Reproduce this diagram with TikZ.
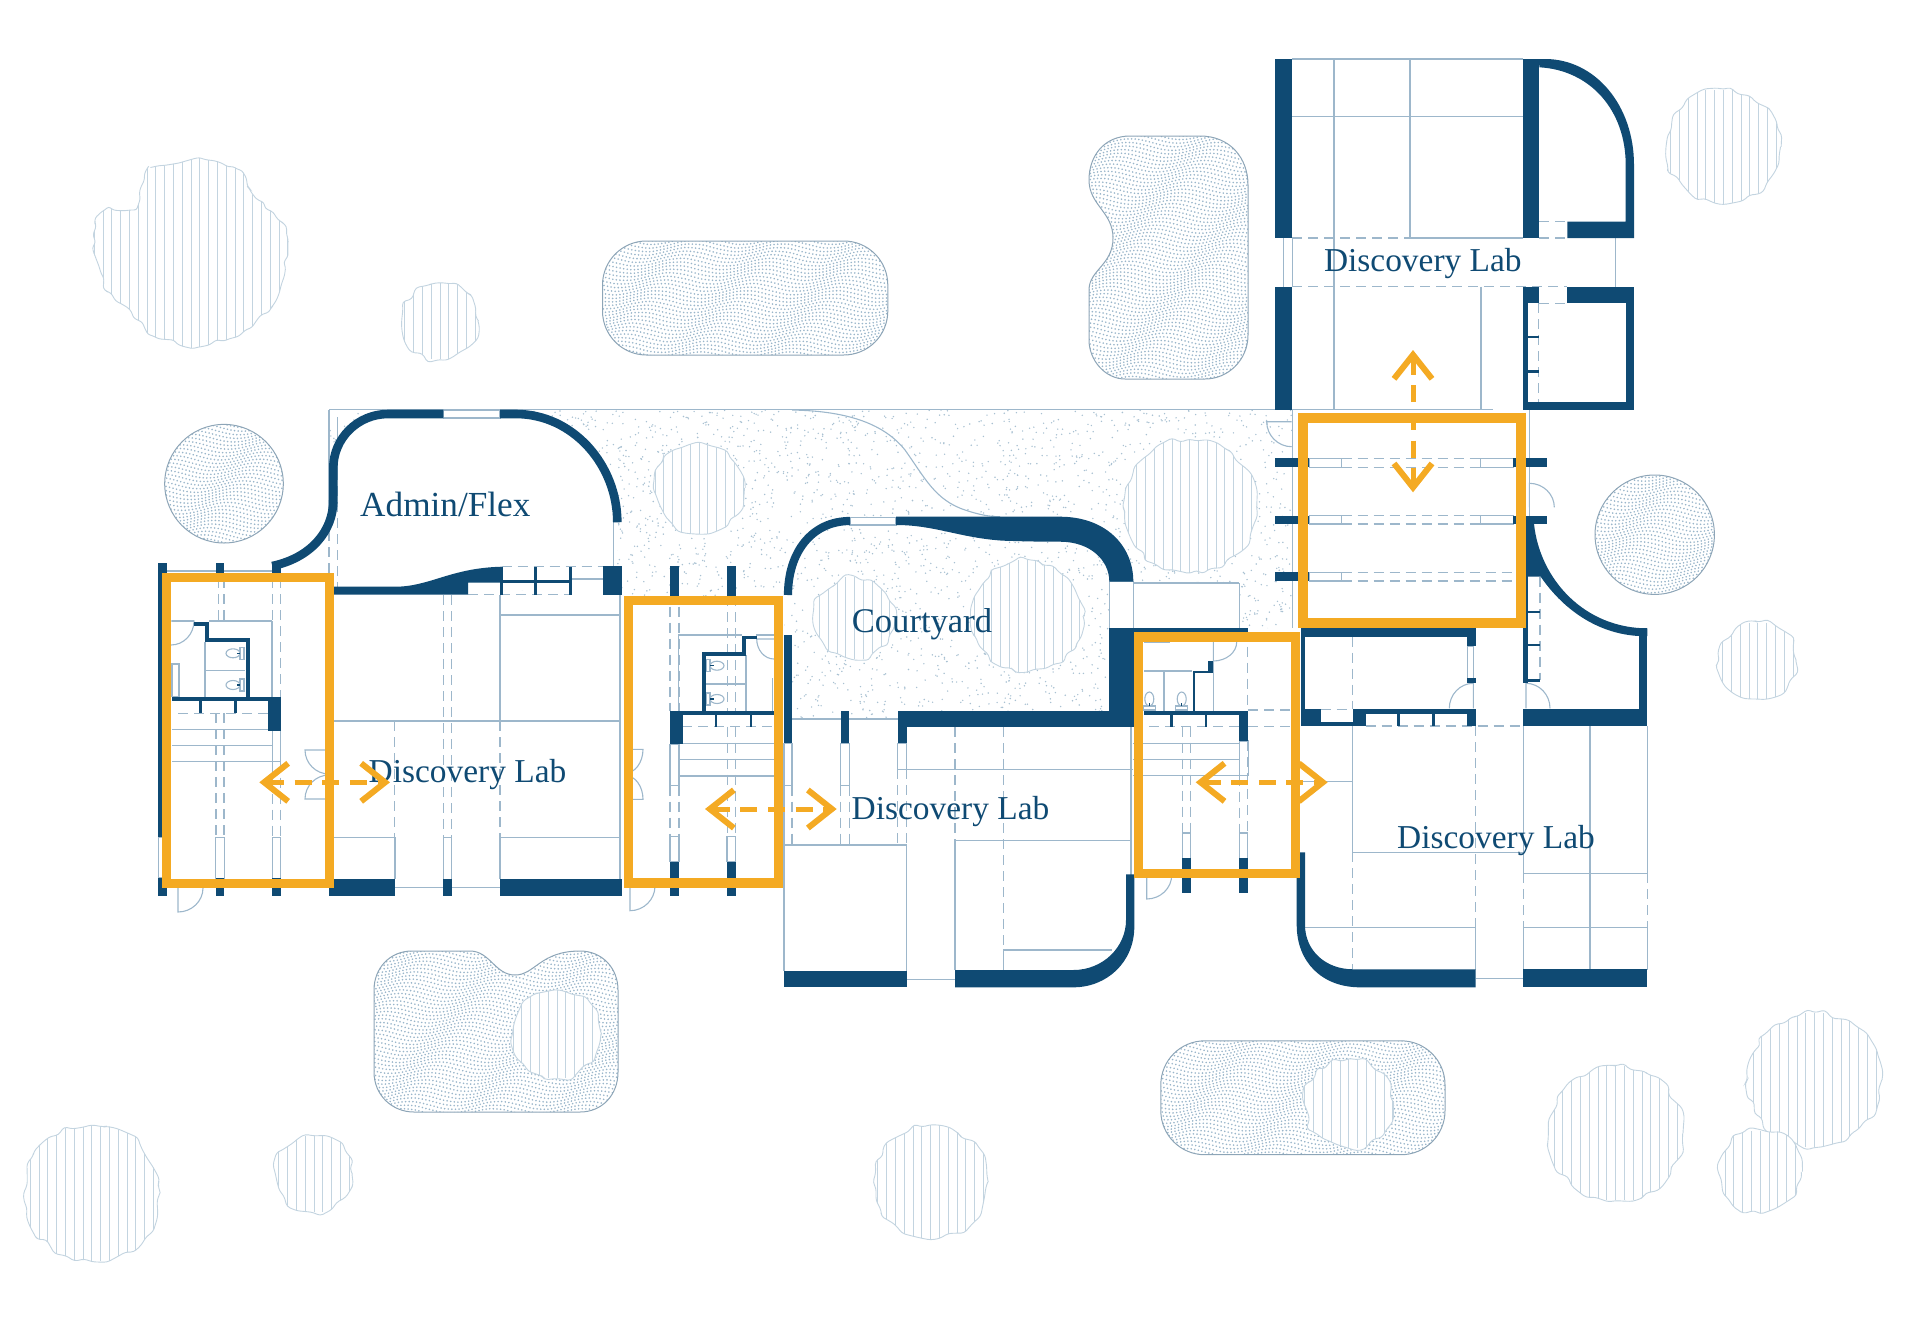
\documentclass[tikz,border=0pt]{standalone}
\usepackage{fontspec}
\setmainfont{Liberation Serif}
\usetikzlibrary{arrows.meta,decorations.pathmorphing}

\definecolor{navy}{HTML}{0F4A73}
\definecolor{amber}{HTML}{F4AA23}
\definecolor{glass}{HTML}{9DB7CB}
\definecolor{speck}{HTML}{A9C1D2}
\definecolor{bedspeck}{HTML}{9AB6CA}
\definecolor{leaf}{HTML}{C3D4E0}

% stippled planting bed: wavy rows of dots clipped to the outline
\newcommand{\bed}[5]{
  \begin{scope}
    \clip #1;
    \pgfmathtruncatemacro{\rowcount}{(#5-#4)/3.6}
    \foreach \row in {0,...,\rowcount} {
      \pgfmathsetmacro{\rowy}{#4+\row*3.6}
      \pgfmathsetmacro{\rowphase}{rnd*1.8}
      \draw[dotrow, dash phase=\rowphase pt] plot[domain=#2:#3, samples=18, smooth] (\x,{\rowy+4*sin(\x*4+\rowy*3)});
    }
  \end{scope}
  \draw[bededge] #1;
}

% tree seen from above: hatching inside a rough outline
\newcommand{\treeshape}[6]{
  \begin{scope}
    \pgfmathsetseed{#1}
    \path[rough, fill=white] #2;
    \begin{scope}
      \pgfmathsetseed{#1}
      \path[rough, clip] #2;
      \foreach \hx in {-12,...,12}
        \draw[hatch] ({#3+\hx*8.8},#5) -- ({#3+\hx*8.8},#6);
    \end{scope}
    \pgfmathsetseed{#1}
    \path[rough, draw=leaf, line width=.45pt] #2;
  \end{scope}
}
\newcommand{\tree}[4]{\treeshape{#1}{(#2,#3) circle (#4)}{#2}{0}{#3-#4}{#3+#4}}

% door leaf and swing: hinge, leaf vector, free vector
\newcommand{\doorswing}[6]{
  \draw[fine] (#1,#2) -- ({#1+#3},{#2+#4})
    .. controls ({#1+#3+.55*#5},{#2+#4+.55*#6}) and ({#1+#5+.55*#3},{#2+#6+.55*#4}) .. ({#1+#5},{#2+#6});
}
\newcommand{\toilet}[3]{
  \begin{scope}[shift={(#1,#2)}, rotate=#3]
    \draw[fine] (-7,0) ellipse [x radius=7, y radius=4.5];
    \draw[fine] (0,-6) rectangle (4,6);
    \fill[navy] (-3.5,-.7) rectangle (0,.7);
  \end{scope}
}

\begin{document}
\begin{tikzpicture}[x=.5pt, y=-.5pt,
    wall/.style={fill=navy},
    fine/.style={draw=glass, line width=.55pt},
    dashline/.style={draw=glass, line width=.55pt, dash pattern=on 5pt off 3pt},
    dotrow/.style={draw=bedspeck, line width=.9pt, line cap=round, dash pattern=on .01pt off 1.8pt},
    bededge/.style={draw=glass!90!black, line width=.5pt},
    rough/.style={decorate, decoration={random steps, segment length=4.5pt, amplitude=1.8pt}, rounded corners=1.6pt},
    hatch/.style={draw=leaf, line width=.5pt},
    frame/.style={draw=amber, line width=4.65pt},
    flow/.style={draw=amber, line width=2.5pt, dash pattern=on 8.5pt off 5.3pt,
      {Straight Barb[length=12pt, width=19pt, line width=3pt]}-{Straight Barb[length=12pt, width=19pt, line width=3pt]}},
    roomlabel/.style={text=navy, font=\fontsize{#1}{20}\selectfont, inner sep=0pt, anchor=base},
    roomlabel/.default=16.7,
  ]
  \useasboundingbox (0,0) rectangle (1920,1317);

  % sparse stipple of the yard
  \begin{scope}
    \clip (329,410) -- (1292.7,410) -- (1292.7,628) -- (1239.3,628) -- (1239.3,583) -- (1133.3,583) -- (1133.3,712)
      -- (897.7,712) -- (897.7,719) -- (784,719) -- (784,596) -- (620,596) -- (620,590) -- (333,590) -- (329,505) -- cycle;
    \pgfmathsetseed{7}
    \foreach \i in {1,...,4300}
      \fill[speck] ({329+rnd*964},{410+rnd*320}) circle (.8);
  \end{scope}
  \fill[white] (272,566) .. controls (310,558) and (333,532) .. (333,500) -- (333,468)
    .. controls (333,438) and (358,414) .. (388,414) -- (516,414)
    .. controls (573,414) and (617,465) .. (617,522) -- (617,590) -- (272,590) -- cycle;

  % planting beds
  \bed{(224,483.7) circle (59.3)}{160}{290}{420}{550}
  \bed{(1654.7,534.7) circle (59.7)}{1590}{1720}{470}{600}
  \bed{[rounded corners=22pt] (602.5,241) rectangle (887.8,355)}{598}{892}{237}{359}
  \bed{[rounded corners=22pt] (1160.8,1040.8) rectangle (1445,1154.7)}{1156}{1450}{1037}{1159}
  \bed{(1130,136) -- (1200,136) .. controls (1230,136) and (1248,158) .. (1248,185) -- (1248,335)
    .. controls (1248,360) and (1228,379) .. (1205,379) -- (1125,379) .. controls (1105,379) and (1089,360) .. (1089,340)
    -- (1089,290) .. controls (1089,270) and (1113,265) .. (1113,238) .. controls (1113,212) and (1089,205) .. (1089,180)
    .. controls (1089,155) and (1105,136) .. (1130,136) -- cycle}{1085}{1252}{132}{383}
  \bed{(374,990) .. controls (374,968) and (390,951) .. (412,951) -- (470,951) .. controls (490,951) and (495,975) .. (515,975)
    .. controls (535,975) and (540,951) .. (580,951) .. controls (602,951) and (618,968) .. (618,990) -- (618,1072)
    .. controls (618,1095) and (602,1112) .. (580,1112) -- (414,1112) .. controls (392,1112) and (374,1095) .. (374,1072) -- cycle}{370}{622}{947}{1116}

  % trees
  \begin{scope}[rough/.style={decorate, decoration={random steps, segment length=3.5pt, amplitude=1.3pt}, rounded corners=1.2pt}]
    \treeshape{11}{(148,168) -- (197,158) -- (240,170) -- (250,190) -- (285,225) -- (288,253) -- (280,290) -- (270,310)
      -- (240,335) -- (195,348) -- (150,335) -- (130,310) -- (105,290) -- (93,250) -- (95,220) -- (107,208) -- (135,210) -- (140,190) -- cycle}{191}{0}{150}{355}
  \end{scope}
  \tree{12}{440}{321}{38}
  \tree{13}{1723.5}{147}{57}
  \tree{14}{1757.8}{660.6}{38}
  \tree{15}{699}{488}{45.5}
  \tree{16}{1189.6}{506.3}{67}
  \tree{17}{854.7}{618}{41}
  \tree{18}{1027}{616}{56}
  \tree{19}{557}{1034}{44}
  \tree{20}{1348.8}{1103.3}{44.5}
  \tree{21}{91.8}{1193.3}{68}
  \tree{22}{314}{1174.3}{38}
  \tree{23}{930.6}{1182.3}{57}
  \tree{24}{1615.7}{1133.3}{67}
  \tree{25}{1814.7}{1080}{67}
  \tree{26}{1760.2}{1171.8}{41}

  % fine lines
  \foreach \xa/\ya/\xb/\yb in {329/409.5/329/515, 337.3/417/337.3/470, 329/409.5/1280/409.5, 167/571/216/571, 224/571/272/571,
      613.3/522/613.3/566, 500/595/500/721, 500/615/620/615, 620/595/620/837.3, 334/721/620/721, 334/837.3/395/837.3,
      395/837.3/395/879.3, 500/837.3/620/837.3, 500/837.3/500/879.3, 620/837.3/620/879.3, 395/887.3/443/887.3, 451.7/887.3/500/887.3, 571/579/603/579,
      172/621/194/621, 209/621/272/621, 272/621/272/697, 205/642/205/697, 205/670.7/245/670.7,
      172/729.3/272/729.3, 172/745.7/272/745.7, 172/761.7/272/761.7,
      678.3/635/742/635, 756/635/774/635, 678.3/635/678.3/711, 746/655/746/711, 706/684/746/684, 772.7/678/772.7/711,
      678/743.3/774/743.3, 678/759.3/774/759.3, 678/776/774/776, 792/719/841/719, 849/719/898/719,
      784/785/784/971, 784/845/906.7/845, 906.7/845/906.7/971, 906.7/979.3/955/979.3, 955/840.7/1131.7/840.7,
      955/840.7/955/970, 1003.3/950/1111.7/950, 1003.3/950/1003.3/970, 898/769.3/1133/769.3, 1131/727/1131/875,
      1133.3/583/1239.3/583, 1239.3/583/1239.3/630, 1213.3/642/1213.3/711, 1164/671/1164/711, 1144/671/1192/671, 1144/642.3/1170/642.3,
      1133.3/743.3/1239/743.3, 1133.3/759.3/1239/759.3, 1133.3/775.7/1239/775.7, 1300/781.7/1352.7/781.7,
      1292.7/410/1292.7/628, 1529.3/410/1529.3/516,
      1352.7/726/1352.7/852.3, 1352.7/852.3/1523.3/852.3, 1305/927.7/1475.7/927.7, 1475.7/927.7/1475.7/970, 1475.7/978.3/1523.3/978.3,
      1523.3/726/1523.3/873.3, 1523.3/927.7/1523.3/970, 1590/726/1590/970, 1647.3/726/1647.3/873.3, 1647.3/927.7/1647.3/970,
      1523.3/873.3/1647.3/873.3, 1523.3/927.7/1647.3/927.7,
      1292.3/59/1522.7/59, 1292.3/116.7/1522.7/116.7, 1334/59/1334/410, 1410/59/1410/238, 1410/238/1522.7/238,
      1481/286.7/1481/410, 1292.3/409.3/1493/409.3, 1283.3/238/1283.3/286.7, 1292.3/238/1292.3/286.7, 1615.7/238/1615.7/286.7}
    \draw[fine] (\xa,\ya) -- (\xb,\yb);

  % windows
  \foreach \xa/\ya/\xb/\yb in {158.3/837.3/167/877.7, 215.7/837.3/224.3/879.3, 272.3/837.3/280.7/879.3, 443.3/837.3/451.7/879.3, 272.3/730.7/280.7/761.7,
      172/664/179/696.7, 443.3/410/500/418, 850/517.3/896/525, 670/744.3/679/785.7, 784/743.3/792/785.7, 840.7/743.3/849.3/785.7,
      897.7/743.3/906.7/769.3, 670/836.7/679/861.7, 727/836.7/735.7/861.7, 1182.3/833/1190.7/858.3, 1239.3/833/1247.7/858.3, 1239.3/741/1248.3/775.7,
      1309.3/458.3/1341.7/467.3, 1480.7/458.3/1513.3/467.3, 1309.3/515.7/1341.7/524, 1480.7/515.7/1513.3/524, 1309.3/572.3/1341.7/581,
      1467.3/646/1473.3/678.3, 1109.3/581.7/1133.3/628.3}
    \draw[fine, fill=white] (\xa,\ya) rectangle (\xb,\yb);

  % dashed overhead lines
  \foreach \xa/\ya/\xb/\yb in {329/515/329/587, 337.3/470/337.3/587, 218.3/578/218.3/621, 224/578/224/621, 216/713.3/216/837.3, 224/713.3/224/837.3,
      272.3/578/272.3/621, 280.7/578/280.7/696.7, 272.3/761.7/272.3/837.3, 280.7/761.7/280.7/837.3, 178/713.3/268/713.3,
      443.3/595/443.3/837.3, 451.7/595/451.7/837.3, 394.3/721/394.3/837.3, 500/721/500/837.3, 501.7/566.5/603/566.5, 468/594.7/570/594.7,
      670/606.7/670/710.7, 679/606.7/679/710.7, 670/785.7/670/836.7, 679/785.7/679/836.7, 727.3/596/727.3/710.7, 735.7/596/735.7/710.7,
      727.3/726.7/727.3/836.7, 735.7/726.7/735.7/836.7, 682/726.7/774/726.7,
      792/785.7/792/845, 840.7/785.7/840.7/845, 849.3/785.7/849.3/845, 897.7/769.3/897.7/845, 906.7/769.3/906.7/845,
      955/727.3/955/840.7, 1003.3/727.3/1003.3/950,
      1149/726.7/1239/726.7, 1182.3/726.7/1182.3/833, 1190.7/726.7/1190.7/833, 1239.3/775.7/1239.3/833, 1247.7/646.7/1247.7/710, 1247.7/741/1247.7/833,
      1248/710/1296/710, 1248/726.7/1300/726.7,
      1352.7/636.7/1352.7/709.3, 1320.7/709.3/1352.7/709.3, 1365.7/726/1523.3/726, 1475.7/726/1475.7/927.7, 1352.7/852.3/1352.7/970,
      1523.3/873.3/1523.3/927.7, 1647.3/873.3/1647.3/927.7, 1540/576.7/1540/680,
      1341.7/458.3/1480.7/458.3, 1341.7/467.3/1480.7/467.3, 1341.7/515.7/1480.7/515.7, 1341.7/524/1480.7/524, 1341.7/572.3/1516/572.3, 1341.7/581/1516/581,
      1292.3/238/1410/238, 1292.3/286.7/1567/286.7, 1539/221.7/1567/221.7, 1539/238/1567/238, 1539/303.3/1567/303.3, 1538.7/303/1538.7/402}
    \draw[dashline] (\xa,\ya) -- (\xb,\yb);

  \draw[fine] (792,410) .. controls (850,411) and (885,425) .. (905,450)
    .. controls (925,478) and (935,500) .. (965,510) .. controls (980,515) and (990,516.7) .. (1000,516.7);

  % doors
  \doorswing{178}{888}{0}{24}{25}{0}
  \doorswing{630}{886}{0}{24.7}{25}{0}
  \doorswing{1146.7}{875}{0}{24}{25}{0}
  \doorswing{329}{750}{-24}{0}{0}{24}
  \doorswing{329}{799}{-24}{0}{0}{-24}
  \doorswing{625}{749.3}{18}{0}{0}{24}
  \doorswing{625}{799.3}{18}{0}{0}{-24}
  \doorswing{171}{621}{23}{0}{0}{24}
  \doorswing{774}{639}{-17.3}{0}{0}{20}
  \doorswing{1213.3}{642}{0}{19}{23.4}{0}
  \doorswing{1291.7}{421.7}{-25}{0}{0}{25}
  \doorswing{1529.3}{507.3}{0}{-24}{25}{0}
  \doorswing{1473.3}{708.3}{0}{-25}{-24}{0}
  \doorswing{1526}{708.3}{0}{-25}{24}{0}

  \toilet{240}{653.3}{0}
  \toilet{240}{685}{0}
  \toilet{710}{665.7}{180}
  \toilet{710}{699}{180}
  \toilet{1149.3}{706}{-90}
  \toilet{1181.7}{706}{-90}

  % straight walls
  \foreach \xa/\ya/\xb/\yb in {158.3/563.3/167.3/837.3, 158.3/877.7/167.3/895.7, 215.7/563.3/224.3/578, 272.3/563.3/280.7/578,
      215.7/877.7/224.3/895.7, 272.3/877.7/280.7/895.7, 329/879.3/395/895.7, 443/879.3/451.7/895.7, 500/879.3/621.7/895.7,
      172/696.7/272/701, 268/696.7/280.7/730.7, 199/701/201.5/713.3, 234/701/236.5/713.3, 245.7/638.3/250/697, 205/638.3/250/642.3,
      205/621.7/209/642, 194/621.7/209/626,
      603.3/566/621.7/594.7, 500/567/503/594.7, 534/567/537/594.7, 568.5/567/571.5/594.7, 500/579.5/571/582.5,
      670/566/679/596, 726.7/566/735.7/596, 670/861.7/679/895.7, 726.7/861.7/735.7/895.7, 670/710.7/682.7/744.3, 682/710.7/775/715,
      714.7/715/717/726.7, 749.7/715/752/726.7, 701.7/652.3/706/711, 701.7/652.3/746/655.7, 742/636/746/655, 742/636/756.7/639,
      784/635/792/743.3, 840.7/710.7/849.3/743.3, 897.7/710.7/1133.3/727.3, 1109.3/628.3/1134/727.3,
      897.7/727/906.7/743.3, 783.6/971/906.7/987.3,
      1134/628.3/1248.3/633, 1192.7/670.7/1195/711, 1192.7/670.7/1213.3/673.3, 1208.3/661/1213.3/673.3, 1144/710.7/1248.3/715,
      1239.3/710.7/1248.3/741, 1170/715/1172.5/726.7, 1204.5/715/1207/726.7, 1182.3/858.3/1190.7/892.7, 1239.3/858.3/1247.7/892.7,
      1300.7/628.3/1475.7/636.7, 1467.3/636/1475.7/646, 1467.3/678.3/1475.7/682.7, 1300.7/628/1305/726, 1300.7/709.3/1320.7/726,
      1320.7/721.7/1352.7/726, 1352.7/709.3/1365.7/726, 1365.7/709.3/1467.3/714, 1397/714/1399.5/726, 1432/714/1434.5/726, 1467.3/709.3/1475.7/726,
      1523.3/709.3/1647.3/726, 1639/628.3/1647.3/710, 1523.3/576/1528.3/682.7, 1528/610.5/1540/613, 1528/643.8/1540/646.3, 1528/679/1540/681.5,
      1523.3/969.3/1647.3/987.3,
      1274.7/458.3/1298.8/467.3, 1274.7/515.7/1298.8/524, 1274.7/572.3/1298.8/581, 1525/458.3/1547.3/467.3, 1525/515.7/1547.3/524,
      1307.7/458.3/1309.3/467.3, 1307.7/515.7/1309.3/524, 1307.7/572.3/1309.3/581, 1513.3/458.3/1516/467.3, 1513.3/515.7/1516/524,
      1275/59/1292.3/238, 1275/286.7/1292.3/410, 1522.7/59/1539.3/238, 1522.7/286.7/1539.3/303.3, 1567.3/286.7/1634/303.3,
      1625.7/303/1634/410, 1522.7/401.7/1634/410, 1522.7/303/1527.7/402, 1527.7/335.5/1539/337.8, 1527.7/370/1539/372.5}
    \fill[wall] (\xa,\ya) rectangle (\xb,\yb);

  % curved walls
  \draw[navy, line width=4.3pt] (272.3,566) .. controls (310,558) and (333.3,532) .. (333.3,500) -- (333.3,468)
    .. controls (333.3,438) and (358,414) .. (388,414) -- (443.3,414);
  \draw[navy, line width=4.3pt] (500,414) -- (516,414) .. controls (573,414) and (617.3,465) .. (617.3,522.3);
  \fill[wall] (334,586.7) -- (395,586.7) .. controls (430,586.7) and (450,568) .. (501.7,566.7) -- (501.7,582.7)
    -- (468,582.7) -- (468,594.7) -- (334,594.7) -- cycle;
  \draw[navy, line width=4.1pt] (788,595) .. controls (788,552) and (812,521) .. (850,521);
  \fill[wall] (896,516.7) -- (1060,516.7) .. controls (1105,516.7) and (1133.3,545) .. (1133.3,581.7) -- (1109.3,581.7)
    .. controls (1109.3,560) and (1090,541.7) .. (1060,541.7) .. controls (1030,541.7) and (1015,541) .. (1003.3,540.7)
    .. controls (960,538) and (935,525) .. (896,525) -- cycle;
  \fill[wall] (955,970) -- (1073.3,970) .. controls (1103,970) and (1126,947) .. (1126,920) -- (1126,874.3)
    -- (1134.3,874.3) -- (1134.3,926.7) .. controls (1134.3,962) and (1107,987.3) .. (1073.3,987.3) -- (955,987.3) -- cycle;
  \fill[wall] (1296.7,852.3) -- (1296.7,925) .. controls (1296.7,962) and (1322,987.3) .. (1360,987.3) -- (1475.7,987.3)
    -- (1475.7,969.3) -- (1353.3,969.3) .. controls (1325,969.3) and (1305,950) .. (1305,925) -- (1305,852.3) -- cycle;
  \fill[wall] (1525.7,524) -- (1534,524) .. controls (1540,580) and (1585,628.3) .. (1647.3,628.3) -- (1647.3,636)
    -- (1639,636) .. controls (1600,634) and (1565,612) .. (1540.7,576.7) -- (1525.7,576.7) -- cycle;
  \fill[wall] (1539,59) -- (1545,59) .. controls (1595,59) and (1634,105) .. (1634,165) -- (1634,238) -- (1567.3,238)
    -- (1567.3,221.7) -- (1625.7,221.7) -- (1625.7,165) .. controls (1625.7,110) and (1590,70) .. (1539.3,67.3) -- cycle;

  % rooms
  \node[roomlabel=17.6] (adminlabel) at (445.3,516.7) {Admin/Flex};
  \node[roomlabel] (labwest) at (467.5,782.3) {Discovery Lab};
  \node[roomlabel=17.3] (courtlabel) at (922,632.3) {Courtyard};
  \node[roomlabel] (labmiddle) at (950.5,819) {Discovery Lab};
  \node[roomlabel] (labeast) at (1496,848.3) {Discovery Lab};
  \node[roomlabel] (labnorth) at (1422.8,271) {Discovery Lab};

  % link zones
  \draw[frame] (166.7,577.3) rectangle (329.3,883.6);
  \draw[frame] (628.7,600.7) rectangle (778.7,883);
  \draw[frame] (1138.7,637) rectangle (1295.2,873.5);
  \draw[frame] (1303,418) rectangle (1521,623);

  \coordinate (westa) at (259.3,782.3);
  \coordinate (westb) at (390,782.3);
  \coordinate (mida) at (705,809);
  \coordinate (midb) at (836.7,809);
  \coordinate (easta) at (1195.7,782.3);
  \coordinate (eastb) at (1327.7,782.3);
  \coordinate (northa) at (1413,350);
  \coordinate (northb) at (1413,492.3);
  \draw[flow] (westa) -- (westb);
  \draw[flow] (mida) -- (midb);
  \draw[flow] (easta) -- (eastb);
  \draw[flow] (northa) -- (northb);
\end{tikzpicture}
\end{document}
